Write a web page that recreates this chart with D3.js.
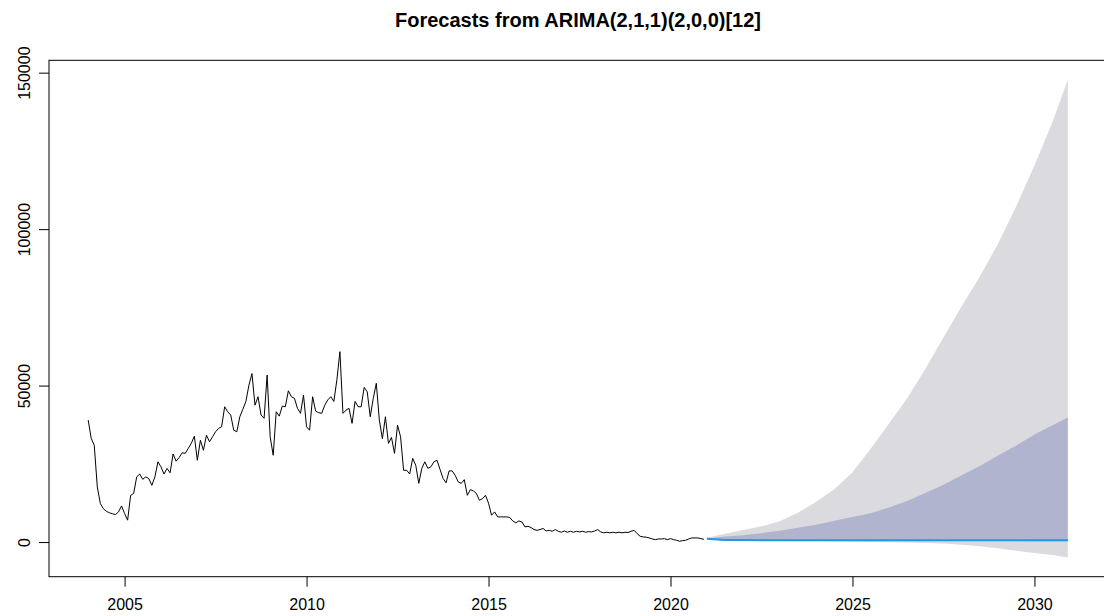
<!DOCTYPE html>
<html>
<head>
<meta charset="utf-8">
<script src="https://cdn.jsdelivr.net/npm/d3@7"></script>
<style>
  html, body { margin: 0; padding: 0; background: #fff; }
  svg { display: block; font-family: "Liberation Sans", Arial, sans-serif; }
</style>
</head>
<body>
<svg id="chart" width="1104" height="616"></svg>
<script>
// Monthly observations, January 2004 – December 2020
const histStart = 2004;
const histValues = [
  39150,33300,31100,17800,12500,10800,10000,9500,9200,8950,9800,11700,
  9300,7150,15100,15700,21000,21900,20200,21000,20400,18300,21000,25800,
  24200,21900,23700,22300,28300,26000,27200,28700,28500,30100,31700,34000,
  26300,32700,29500,34300,32200,33800,35400,36500,37000,43400,41800,40750,
  35900,35400,40200,42600,45100,50300,54000,43900,46600,40750,39700,53500,
  33800,27900,41800,40400,43600,43400,48500,46600,46100,42900,41300,47100,
  37000,35900,46600,42000,41500,41300,43900,45600,46600,45100,52000,61000,
  41300,42300,42900,38100,45100,43400,43400,49600,48200,40200,46100,50900,
  39100,33200,40200,31700,33600,28500,37500,33800,23100,23100,21900,26900,
  24700,18900,23700,25800,23700,24200,25800,26300,23400,20500,19100,22900,
  22900,21500,19400,18900,20100,15100,16900,16500,15700,13500,14000,15100,
  12600,8730,9800,8200,8200,8200,8200,8000,6900,6300,6900,6600,
  5000,5200,4800,4150,3900,4150,4500,3700,3900,3600,4150,3600,
  3300,3700,3300,3600,3300,3600,3400,3600,3300,3500,3400,3700,
  4150,3400,3100,3300,3100,3300,3100,3300,3100,3300,3200,3600,
  3900,2860,2000,1800,1700,1480,1150,940,1150,1150,1250,940,
  1250,940,730,410,620,730,1150,1480,1480,1480,1250,1040
];

// Forecast horizon: months ahead of January 2021 at which the bands are given
const fcStart = 2021;
const fcMonths = [0,6,12,18,24,30,36,42,48,54,60,66,72,78,84,90,96,102,108,114,119];
const fcMean   = [1250,800,780,770,760,760,760,760,760,760,760,760,760,760,760,760,760,760,760,760,760];
const fcLo80   = [1100,650,620,600,590,580,570,560,550,540,530,520,510,500,490,480,470,460,450,440,430];
const fcHi80   = [1300,1900,2300,3000,3800,4700,5700,7000,8200,9400,11200,13300,15800,18500,21500,24500,27800,31000,34500,37500,40000];
const fcLo95   = [1000,600,560,520,480,440,400,350,300,200,100,0,-150,-300,-700,-1200,-1800,-2600,-3300,-4000,-4800];
const fcHi95   = [1500,2800,4000,5200,6800,9500,13000,17000,22500,30000,38000,46000,55500,65500,75500,85000,95500,107500,120500,134500,148000];

const yTicks = [0, 50000, 100000, 150000];
const xTicks = [2005, 2010, 2015, 2020, 2025, 2030];
const title = "Forecasts from ARIMA(2,1,1)(2,0,0)[12]";

const hist = histValues.map((v, i) => ({ t: histStart + i / 12, v }));
const fc = fcMonths.map((m, i) => ({
  t: fcStart + m / 12, mean: fcMean[i],
  lo80: fcLo80[i], hi80: fcHi80[i], lo95: fcLo95[i], hi95: fcHi95[i]
}));

// Plot region with R-style 4% padding around the data range
const box = { left: 49, top: 60.3, right: 1107, bottom: 576.7 };
const tMin = hist[0].t, tMax = fc[fc.length - 1].t;
const vMin = d3.min(fcLo95), vMax = d3.max(fcHi95);
const tPad = (tMax - tMin) * 0.04, vPad = (vMax - vMin) * 0.04;

const x = d3.scaleLinear().domain([tMin - tPad, tMax + tPad]).range([box.left, box.right]);
const y = d3.scaleLinear().domain([vMin - vPad, vMax + vPad]).range([box.bottom, box.top]);

const svg = d3.select("#chart");
svg.append("rect").attr("width", 1104).attr("height", 616).attr("fill", "#fff");

// Prediction bands: 95% underneath, 80% on top
svg.append("path")
  .datum(fc)
  .attr("fill", "#dadadf")
  .attr("d", d3.area().x(d => x(d.t)).y0(d => y(d.lo95)).y1(d => y(d.hi95)));
svg.append("path")
  .datum(fc)
  .attr("fill", "#b0b4cf")
  .attr("d", d3.area().x(d => x(d.t)).y0(d => y(d.lo80)).y1(d => y(d.hi80)));

// Observed series
svg.append("path")
  .datum(hist)
  .attr("fill", "none")
  .attr("stroke", "#000")
  .attr("stroke-width", 1)
  .attr("stroke-linejoin", "round")
  .attr("d", d3.line().x(d => x(d.t)).y(d => y(d.v)));

// Point forecast
svg.append("path")
  .datum(fc)
  .attr("fill", "none")
  .attr("stroke", "#2297e6")
  .attr("stroke-width", 2)
  .attr("d", d3.line().x(d => x(d.t)).y(d => y(d.mean)));

// Frame
svg.append("rect")
  .attr("x", box.left).attr("y", box.top)
  .attr("width", box.right - box.left).attr("height", box.bottom - box.top)
  .attr("fill", "none").attr("stroke", "#000").attr("stroke-width", 1);

// Bottom axis
const xAxis = d3.axisBottom(x).tickValues(xTicks).tickFormat(d3.format("d"))
  .tickSize(10).tickPadding(12);
const gx = svg.append("g").attr("transform", `translate(0,${box.bottom})`).call(xAxis);
gx.select(".domain").remove();
gx.selectAll("line").attr("stroke", "#000");
gx.selectAll("text").attr("font-size", 16).attr("fill", "#000")
  .attr("font-family", "'Liberation Sans', Arial, sans-serif");

// Left axis with rotated labels
const yAxis = d3.axisLeft(y).tickValues(yTicks).tickFormat(d3.format("d")).tickSize(10);
const gy = svg.append("g").attr("transform", `translate(${box.left},0)`).call(yAxis);
gy.select(".domain").remove();
gy.selectAll("line").attr("stroke", "#000");
gy.selectAll("text")
  .attr("font-size", 16).attr("fill", "#000")
  .attr("font-family", "'Liberation Sans', Arial, sans-serif")
  .attr("x", null).attr("dy", null)
  .attr("text-anchor", "middle")
  .attr("transform", d => `translate(-19,${y(d)}) rotate(-90)`)
  .attr("y", 0);
gy.selectAll(".tick").attr("transform", "translate(0,0)")
  .select("line").attr("transform", d => `translate(0,${y(d)})`);

// Title
svg.append("text")
  .attr("x", (box.left + box.right) / 2).attr("y", 27)
  .attr("text-anchor", "middle")
  .attr("font-weight", "bold").attr("font-size", 20)
  .attr("fill", "#000")
  .text(title);
</script>
</body>
</html>
